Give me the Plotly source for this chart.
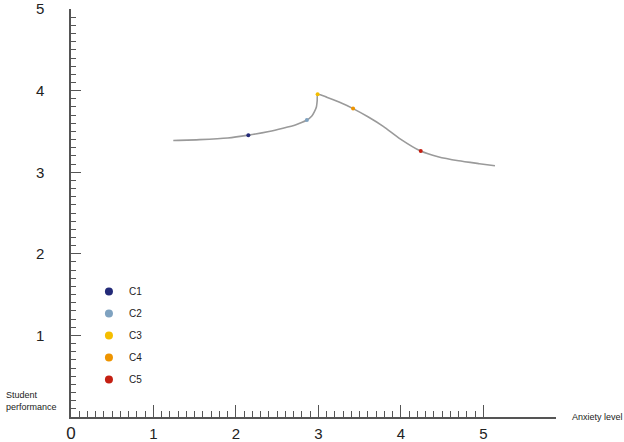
import numpy as np
import plotly.graph_objects as go

# Curve (anxiety level vs student performance)
curve_x = [1.24, 1.56, 1.90, 2.15, 2.40, 2.57, 2.72, 2.86, 2.92, 2.95, 2.975, 2.985, 2.99,
           3.10, 3.25, 3.42, 3.60, 3.79, 3.99, 4.24, 4.45, 4.70, 4.95, 5.14]
curve_y = [3.39, 3.40, 3.42, 3.455, 3.50, 3.54, 3.58, 3.64, 3.69, 3.74, 3.80, 3.88, 3.955,
           3.92, 3.86, 3.78, 3.68, 3.56, 3.41, 3.26, 3.19, 3.14, 3.105, 3.08]

# Cluster points
clusters = ["C1", "C2", "C3", "C4", "C5"]
cluster_x = [2.15, 2.86, 2.99, 3.42, 4.24]
cluster_y = [3.455, 3.64, 3.955, 3.78, 3.26]
cluster_colors = ["#232a78", "#7fa2c0", "#f5be00", "#ee9400", "#c41f12"]

x_tick_vals = [0, 1, 2, 3, 4, 5]
x_tick_text = ['<span style="font-size:17px">0</span>', "1", "2", "3", "4", "5"]
y_tick_vals = [1, 2, 3, 4, 5]
y_tick_text = ["1", "2", "3", "4", "5"]

fig = go.Figure()
fig.add_trace(go.Scatter(x=curve_x, y=curve_y, mode="lines",
                         line=dict(color="#9a9a9a", width=1.6, shape="spline", smoothing=0.5),
                         showlegend=False, hoverinfo="skip"))
for i, name in enumerate(clusters):
    fig.add_trace(go.Scatter(x=[cluster_x[i]], y=[cluster_y[i]], mode="markers",
                             marker=dict(color=cluster_colors[i], size=4),
                             showlegend=False, name=name))
    fig.add_trace(go.Scatter(x=[None], y=[None], mode="markers",
                             marker=dict(color=cluster_colors[i], size=8),
                             name=name, legendgroup=name, showlegend=True))

axis_font = dict(family="Liberation Sans, Arial, sans-serif", size=15, color="#222")
minor_vals = list(np.round(np.arange(0, 5.01, 0.1), 2))
fig.update_layout(
    width=624, height=442,
    margin=dict(l=71, r=68, t=9, b=25),
    paper_bgcolor="white", plot_bgcolor="white",
    font=dict(family="Liberation Sans, Arial, sans-serif"),
    xaxis=dict(range=[0, 5.88], showgrid=False, zeroline=False,
               showline=True, linecolor="#555", linewidth=1.5,
               ticks="inside", ticklen=12, tickwidth=1.2, tickcolor="#555",
               tickmode="array", tickvals=x_tick_vals, ticktext=x_tick_text,
               tickfont=axis_font, ticklabelstandoff=2, automargin=False,
               ticklabeloverflow="allow",
               minor=dict(tickmode="array", tickvals=minor_vals,
                          ticks="inside", ticklen=6, tickwidth=1, tickcolor="#555")),
    yaxis=dict(range=[0, 5.001], showgrid=False, zeroline=False,
               showline=True, linecolor="#555", linewidth=1.5,
               ticks="inside", ticklen=10, tickwidth=1.2, tickcolor="#555",
               tickmode="array", tickvals=y_tick_vals, ticktext=y_tick_text,
               tickfont=axis_font, ticklabelstandoff=22, automargin=False,
               ticklabeloverflow="allow",
               minor=dict(tickmode="array", tickvals=minor_vals,
                          ticks="inside", ticklen=5, tickwidth=1, tickcolor="#555")),
    legend=dict(x=0.037, y=0.343, xanchor="left", yanchor="top",
                font=dict(size=10, color="#222"), tracegroupgap=3,
                bgcolor="rgba(0,0,0,0)"),
    showlegend=True,
)
fig.add_annotation(text="Student<br>performance", xref="paper", yref="paper",
                   x=-0.138, y=0.04, xanchor="left", yanchor="middle", align="left",
                   showarrow=False, font=dict(size=9, color="#222"))
fig.add_annotation(text="Anxiety level", xref="paper", yref="paper",
                   x=1.0, xshift=14, y=0.0, xanchor="left", yanchor="middle", align="left",
                   showarrow=False, font=dict(size=9, color="#222"))
fig.write_html("out.html", config={"displayModeBar": False})

# remove default page margin so the figure sits at the window's corner
with open("out.html", encoding="utf-8") as f:
    html = f.read()
html = html.replace("<body>", '<body style="margin:0;padding:0;">', 1)
with open("out.html", "w", encoding="utf-8") as f:
    f.write(html)
